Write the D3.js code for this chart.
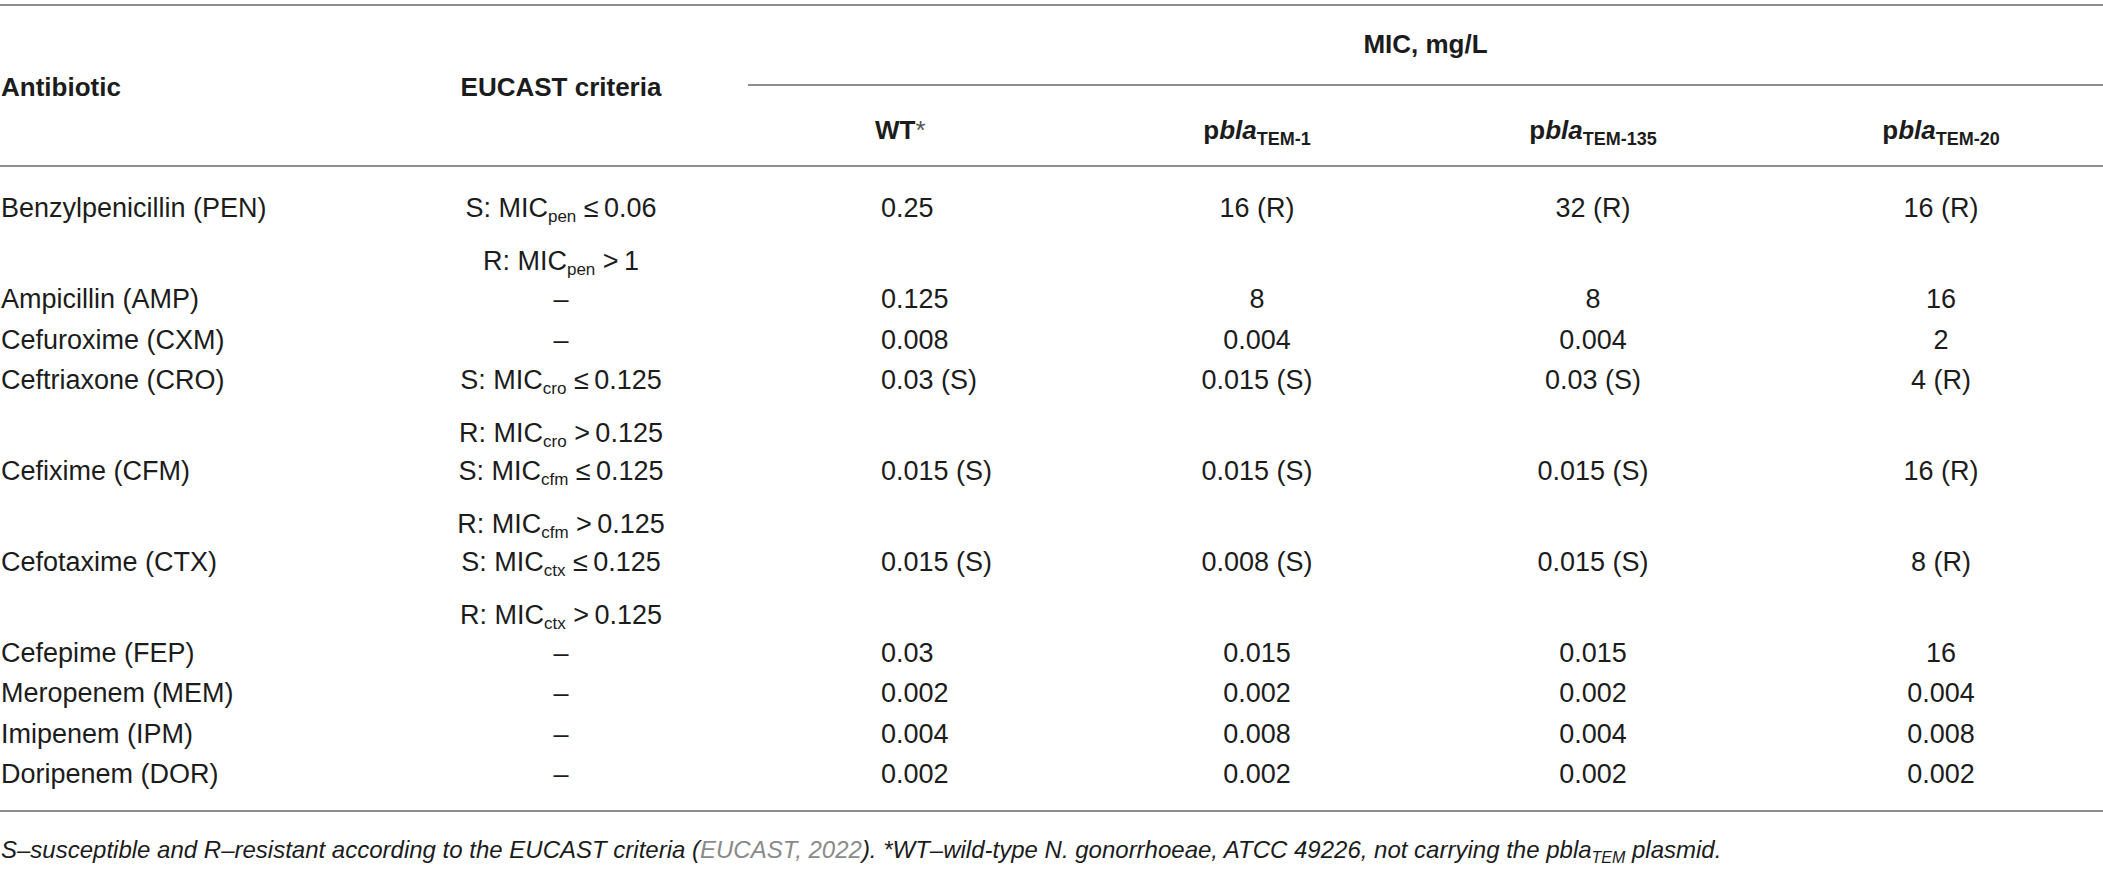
<!DOCTYPE html>
<html>
<head>
<meta charset="utf-8">
<script src="https://cdn.jsdelivr.net/npm/d3@7"></script>
<style>
  body { margin: 0; background: #fff; }
  svg { display: block; font-family: "Liberation Sans", Arial, Helvetica, sans-serif; }
</style>
</head>
<body>
<svg id="drawing_region"></svg>
<script>
// table contents
const antibiotics = [
    "Benzylpenicillin (PEN)", "Ampicillin (AMP)", "Cefuroxime (CXM)", "Ceftriaxone (CRO)",
    "Cefixime (CFM)", "Cefotaxime (CTX)", "Cefepime (FEP)", "Meropenem (MEM)",
    "Imipenem (IPM)", "Doripenem (DOR)"
];
// EUCAST breakpoints: [drug subscript, S threshold, R threshold] or null
const criteria = [
    ["pen", "0.06", "1"], null, null, ["cro", "0.125", "0.125"],
    ["cfm", "0.125", "0.125"], ["ctx", "0.125", "0.125"], null, null, null, null
];
const strains = [
    { name: "WT", sub: null },
    { name: "pbla", sub: "TEM-1" },
    { name: "pbla", sub: "TEM-135" },
    { name: "pbla", sub: "TEM-20" }
];
const wt     = ["0.25", "0.125", "0.008", "0.03 (S)", "0.015 (S)", "0.015 (S)", "0.03", "0.002", "0.004", "0.002"];
const tem1   = ["16 (R)", "8", "0.004", "0.015 (S)", "0.015 (S)", "0.008 (S)", "0.015", "0.002", "0.008", "0.002"];
const tem135 = ["32 (R)", "8", "0.004", "0.03 (S)", "0.015 (S)", "0.015 (S)", "0.015", "0.002", "0.004", "0.002"];
const tem20  = ["16 (R)", "16", "2", "4 (R)", "16 (R)", "8 (R)", "16", "0.004", "0.008", "0.002"];

const config = {
    width: 2103,
    height: 870,
    fontSize: 27,
    subSize: 17,
    lineColor: '#8e8e8e',
    textColor: '#1c1c1c'
};

const svg = d3.select('#drawing_region')
    .attr('width', config.width)
    .attr('height', config.height);

svg.append('rect')
    .attr('width', config.width)
    .attr('height', config.height)
    .attr('fill', '#fff');

// column positions
const colX = d3.scaleOrdinal()
    .domain(['antibiotic', 'criteria', 's0', 's1', 's2', 's3'])
    .range([1, 561, 881, 1257, 1593, 1941]);

// row heights in line units: a row with S/R criteria needs two lines
const rowUnits = criteria.map(c => c ? 2.25 : 1);
const rowStart = d3.cumsum([0].concat(rowUnits));
const yscale = d3.scaleLinear()
    .domain([0, 1])
    .range([208, 208 + 40.4]);

const columns = [wt, tem1, tem135, tem20];

// horizontal rules
const rules = [
    { y: 5, x0: 0, x1: config.width },
    { y: 85, x0: 748, x1: config.width },
    { y: 166, x0: 0, x1: config.width },
    { y: 811, x0: 0, x1: config.width }
];
svg.selectAll('line.rule')
    .data(rules)
    .enter()
    .append('line')
    .attr('class', 'rule')
    .attr('x1', d => d.x0)
    .attr('x2', d => d.x1)
    .attr('y1', d => d.y)
    .attr('y2', d => d.y)
    .attr('stroke', config.lineColor)
    .attr('stroke-width', 2);

// header
const header = svg.append('g')
    .attr('font-weight', 'bold')
    .attr('font-size', config.fontSize - 1)
    .attr('fill', config.textColor);

header.append('text')
    .attr('x', colX('antibiotic'))
    .attr('y', 87)
    .attr('dy', '0.35em')
    .text('Antibiotic');

header.append('text')
    .attr('x', colX('criteria'))
    .attr('y', 87)
    .attr('dy', '0.35em')
    .attr('text-anchor', 'middle')
    .text('EUCAST criteria');

header.append('text')
    .attr('x', (748 + config.width) / 2)
    .attr('y', 44)
    .attr('dy', '0.35em')
    .attr('text-anchor', 'middle')
    .text('MIC, mg/L');

strains.forEach((s, i) => {
    const t = header.append('text')
        .attr('x', colX('s' + i))
        .attr('y', 130)
        .attr('dy', '0.35em')
        .attr('text-anchor', i === 0 ? 'start' : 'middle');
    if (s.sub === null) {
        t.attr('dx', -6);
        t.append('tspan').text(s.name);
        t.append('tspan').attr('font-weight', 'normal').attr('fill', '#555').text('*');
    } else {
        t.append('tspan').text('p');
        t.append('tspan').attr('font-style', 'italic').text('bla');
        t.append('tspan').attr('font-size', 18).attr('dy', 6).text(s.sub);
    }
});

// body
const body = svg.append('g')
    .attr('font-size', config.fontSize)
    .attr('fill', config.textColor);

antibiotics.forEach((name, i) => {
    const y = yscale(rowStart[i]);

    body.append('text')
        .attr('x', colX('antibiotic'))
        .attr('y', y)
        .attr('dy', '0.35em')
        .text(name);

    const c = criteria[i];
    if (c) {
        [['S', '\u2264', c[1], 0], ['R', '>', c[2], 1.31]].forEach(r => {
            const t = body.append('text')
                .attr('x', colX('criteria'))
                .attr('y', yscale(rowStart[i] + r[3]))
                .attr('dy', '0.35em')
                .attr('text-anchor', 'middle');
            t.append('tspan').text(r[0] + ': MIC');
            t.append('tspan').attr('font-size', config.subSize).attr('dy', 5).text(c[0]);
            t.append('tspan').attr('dy', -5).text(' ' + r[1] + '\u2009' + r[2]);
        });
    } else {
        body.append('text')
            .attr('x', colX('criteria'))
            .attr('y', y)
            .attr('dy', '0.35em')
            .attr('text-anchor', 'middle')
            .text('\u2013');
    }

    columns.forEach((col, j) => {
        body.append('text')
            .attr('x', colX('s' + j))
            .attr('y', y)
            .attr('dy', '0.35em')
            .attr('text-anchor', j === 0 ? 'start' : 'middle')
            .text(col[i]);
    });
});

// footnote
const note = svg.append('text')
    .attr('x', 1)
    .attr('y', 850)
    .attr('dy', '0.35em')
    .attr('font-size', 24)
    .attr('font-style', 'italic')
    .attr('fill', config.textColor);
note.append('tspan').text('S\u2013susceptible and R\u2013resistant according to the EUCAST criteria (');
note.append('tspan').attr('fill', '#8a8a8a').text('EUCAST, 2022');
note.append('tspan').text('). *WT\u2013wild-type N. gonorrhoeae, ATCC 49226, not carrying the pbla');
note.append('tspan').attr('font-size', 16).attr('dy', 5).text('TEM');
note.append('tspan').attr('dy', -5).text(' plasmid.');
</script>
</body>
</html>
